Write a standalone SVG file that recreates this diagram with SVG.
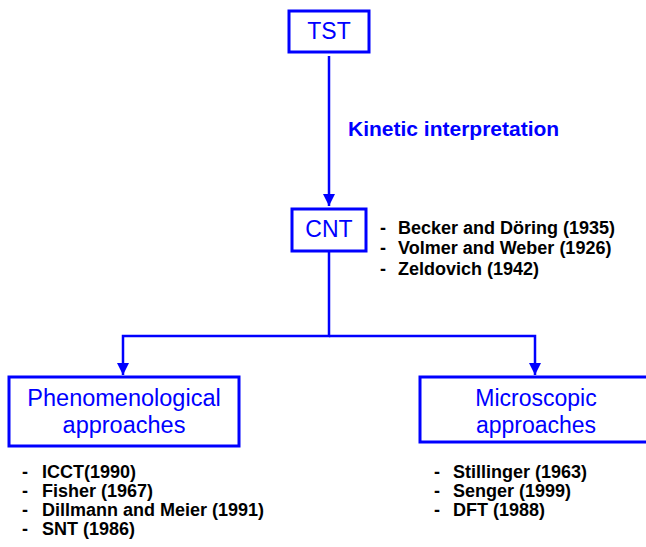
<svg xmlns="http://www.w3.org/2000/svg" width="646" height="547" viewBox="0 0 646 547">
<defs>
<style>
.box{fill:#fff;stroke:#0000ff;stroke-width:3}
.lbl{font-family:"Liberation Sans",Arial,sans-serif;font-size:23px;fill:#0000ff;text-anchor:middle}
.edge{fill:none;stroke:#0000ff;stroke-width:2.5}
.note{font-family:"Liberation Sans",Arial,sans-serif;font-size:18px;font-weight:bold;fill:#000}
.klbl{font-family:"Liberation Sans",Arial,sans-serif;font-size:21px;font-weight:bold;fill:#0000ff}
</style>
<marker id="arr" viewBox="0 0 12 12" refX="12" refY="6" markerWidth="12" markerHeight="12" markerUnits="userSpaceOnUse" orient="auto">
<path d="M0,0 L12,6 L0,12 Z" fill="#0000ff"/>
</marker>
</defs>
<rect width="646" height="547" fill="#fff"/>
<g id="connectors">
<line class="edge" x1="329" y1="56" x2="329" y2="206" marker-end="url(#arr)"/>
<polyline class="edge" points="329,251 329,336 123,336 123,375" marker-end="url(#arr)"/>
<polyline class="edge" points="329,336 535,336 535,375" marker-end="url(#arr)"/>
<text class="klbl" x="348" y="136">Kinetic interpretation</text>
</g>
<g id="tst">
<rect class="box" x="289" y="11" width="80" height="41"/>
<text class="lbl" x="329" y="39">TST</text>
</g>
<g id="cnt">
<rect class="box" x="292" y="209" width="74" height="42"/>
<text class="lbl" x="329" y="237">CNT</text>
<text class="note" x="380" y="234">-</text>
<text class="note" x="398" y="234">Becker and Döring (1935)</text>
<text class="note" x="380" y="254">-</text>
<text class="note" x="398" y="254">Volmer and Weber (1926)</text>
<text class="note" x="380" y="275">-</text>
<text class="note" x="398" y="275">Zeldovich (1942)</text>
</g>
<g id="phenomenological">
<rect class="box" x="9" y="377" width="230" height="69"/>
<text class="lbl" x="124" y="406" style="font-size:23.5px">Phenomenological</text>
<text class="lbl" x="124" y="433" style="font-size:23.5px">approaches</text>
<text class="note" x="22" y="478">-</text>
<text class="note" x="42" y="478">ICCT(1990)</text>
<text class="note" x="22" y="497">-</text>
<text class="note" x="42" y="497">Fisher (1967)</text>
<text class="note" x="22" y="516">-</text>
<text class="note" x="42" y="516">Dillmann and Meier (1991)</text>
<text class="note" x="22" y="535">-</text>
<text class="note" x="42" y="535">SNT (1986)</text>
</g>
<g id="microscopic">
<rect class="box" x="420" y="377" width="231" height="65"/>
<text class="lbl" x="536" y="406">Microscopic</text>
<text class="lbl" x="536" y="433">approaches</text>
<text class="note" x="434" y="478">-</text>
<text class="note" x="453" y="478">Stillinger (1963)</text>
<text class="note" x="434" y="497">-</text>
<text class="note" x="453" y="497">Senger (1999)</text>
<text class="note" x="434" y="516">-</text>
<text class="note" x="453" y="516">DFT (1988)</text>
</g>
</svg>
